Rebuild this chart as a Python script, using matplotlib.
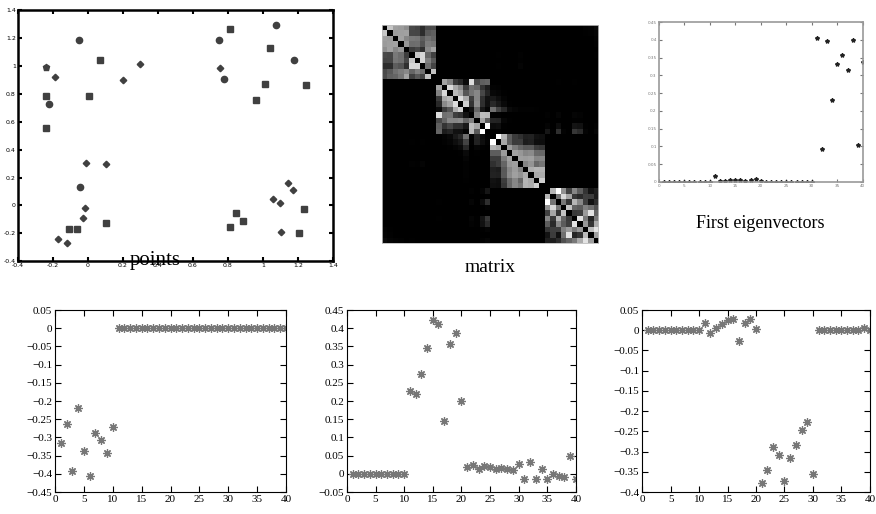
import numpy as np
import matplotlib
matplotlib.use('Agg')
import matplotlib.pyplot as plt

# points (4 clusters of 10), marker per point
pts_x = [-0.05, -0.24, -0.19, -0.24, -0.225, -0.24, 0.07, 0.008, 0.20, 0.30,      # top-left
         -0.013, 0.103, -0.046, -0.019, -0.029, 0.101, -0.107, -0.063, -0.17, -0.12,  # bottom-left
         0.813, 1.072, 0.747, 1.038, 1.175, 0.752, 0.779, 1.013, 1.244, 0.962,     # top-right
         1.141, 1.171, 1.057, 1.095, 1.232, 0.846, 0.886, 0.81, 1.105, 1.206]      # bottom-right
pts_y = [1.189, 0.993, 0.921, 0.787, 0.73, 0.558, 1.046, 0.787, 0.897, 1.012,
         0.304, 0.294, 0.129, -0.017, -0.093, -0.125, -0.173, -0.173, -0.242, -0.273,
         1.268, 1.297, 1.185, 1.131, 1.046, 0.986, 0.907, 0.871, 0.861, 0.759,
         0.158, 0.11, 0.043, 0.017, -0.029, -0.055, -0.115, -0.153, -0.193, -0.201]
pts_m = ['o', 'p', 'D', 's', 'o', 's', 's', 's', 'D', 'D',
         'D', 'D', 'o', 'D', 'D', 's', 's', 's', 'D', 'D',
         's', 'o', 'o', 's', 'o', 'D', 'o', 's', 's', 's',
         'D', 'D', 'D', 'D', 's', 's', 's', 's', 'D', 's']
# block order of the clusters in the matrix
block_order = [3, 0, 1, 2]
sigma = 0.25

idx = np.arange(1, 41)
# first eigenvector (top right)
ev_first = [0]*10 + [0.017, 0.002, 0.003, 0.006, 0.006, 0.006, 0.003, 0.005, 0.009, 0.004] + [0]*10 + \
           [0.406, 0.093, 0.397, 0.232, 0.333, 0.358, 0.314, 0.40, 0.103, 0.337]
ev1 = [-0.315, -0.264, -0.392, -0.219, -0.338, -0.407, -0.289, -0.308, -0.342, -0.272] + [0]*30
ev2 = [0]*10 + [0.228, 0.218, 0.275, 0.346, 0.422, 0.412, 0.145, 0.356, 0.388, 0.2,
                0.02, 0.023, 0.014, 0.022, 0.019, 0.014, 0.017, 0.012, 0.011, 0.026,
                -0.014, 0.033, -0.014, 0.014, -0.014, -0.001, -0.006, -0.009, 0.048, -0.013]
ev3 = [0]*10 + [0.018, -0.007, 0.005, 0.015, 0.025, 0.028, -0.027, 0.018, 0.027, 0.003,
                -0.378, -0.346, -0.289, -0.308, -0.373, -0.315, -0.284, -0.246, -0.226, -0.355] + \
      [0]*8 + [0.005, 0]

fig = plt.figure(figsize=(8.76, 5.14), dpi=100)

# points
ax = fig.add_axes([0.0205, 0.492, 0.3596, 0.488])
for x, y, m in zip(pts_x, pts_y, pts_m):
    ax.plot(x, y, m, color='#404040', ms={'o': 4.5, 's': 4.2, 'D': 3.3, 'p': 4.5}[m], mec='#404040')
ax.set_xlim(-0.4, 1.4)
ax.set_ylim(-0.4, 1.4)
ax.set_xticks(np.arange(-0.4, 1.41, 0.2))
ax.set_yticks(np.arange(-0.4, 1.41, 0.2))
ax.set_xticklabels(['-0.4', '-0.2', '0', '0.2', '0.4', '0.6', '0.8', '1', '1.2', '1.4'])
ax.set_yticklabels(['-0.4', '-0.2', '0', '0.2', '0.4', '0.6', '0.8', '1', '1.2', '1.4'])
ax.tick_params(direction='in', length=3, width=1.5, labelsize=4.5, pad=1.5, top=True, right=True)
for s in ax.spines.values():
    s.set_linewidth(1.8)
fig.text(155/876, 1-261/514, 'points', family='Liberation Serif', fontsize=15, ha='center', va='center')

# matrix, affinity built from the points above
pts = np.array([pts_x, pts_y]).T
order = np.concatenate([np.arange(b*10, b*10+10) for b in block_order])
P = pts[order]
d2 = ((P[:, None, :] - P[None, :, :])**2).sum(-1)
A = np.exp(-d2/(2*sigma**2))
np.fill_diagonal(A, 0)
D = A.sum(1)
L = A/np.sqrt(np.outer(D, D))
ax = fig.add_axes([0.436, 0.527, 0.2466, 0.424])
ax.imshow(L, cmap='gray', interpolation='nearest', aspect='auto')
ax.set_xticks([])
ax.set_yticks([])
for s in ax.spines.values():
    s.set_color('#bbbbbb')
    s.set_linewidth(0.6)
fig.text(490/876, 1-267/514, 'matrix', family='Liberation Serif', fontsize=14, ha='center', va='center')

# first eigenvectors
ax = fig.add_axes([0.752, 0.646, 0.233, 0.311])
ax.plot(idx, ev_first, '*', color='#222222', ms=3)
ax.set_xlim(0, 40)
ax.set_ylim(0, 0.45)
ax.set_xticks(np.arange(0, 41, 5))
ax.set_yticks(np.arange(0, 0.451, 0.05))
ax.set_yticklabels(['0', '0.05', '0.1', '0.15', '0.2', '0.25', '0.3', '0.35', '0.4', '0.45'])
ax.tick_params(direction='in', length=2, width=0.8, labelsize=3, pad=1.5, top=True, right=True, colors='#777777')
for s in ax.spines.values():
    s.set_color('#999999')
    s.set_linewidth(1.2)
fig.text(760/876, 1-224/514, 'First eigenvectors', family='Liberation Serif', fontsize=13, ha='center', va='center')

# bottom row
ast = (8, 2, 0)
bottom = [
    ([0.0628, 0.0428, 0.2637, 0.354], ev1, (-0.45, 0.05)),
    ([0.396, 0.0428, 0.2614, 0.354], ev2, (-0.05, 0.45)),
    ([0.733, 0.0428, 0.260, 0.354], ev3, (-0.4, 0.05)),
]
for pos, vals, lim in bottom:
    ax = fig.add_axes(pos)
    ax.plot(idx, vals, ls='none', marker=ast, color='#777777', ms=6, mew=0.9)
    ax.set_xlim(0, 40)
    ax.set_ylim(*lim)
    ax.set_xticks(np.arange(0, 41, 5))
    yt = np.round(np.arange(lim[0], lim[1] + 0.001, 0.05), 2)
    ax.set_yticks(yt)
    ax.set_yticklabels([('%g' % v).replace('-', '\u2212') if abs(v) > 1e-9 else '0' for v in yt])
    ax.tick_params(direction='in', length=4, width=0.8, labelsize=8, pad=2, top=True, right=True)
    for lab in ax.get_xticklabels() + ax.get_yticklabels():
        lab.set_family('Liberation Serif')
    for s in ax.spines.values():
        s.set_linewidth(0.8)

fig.savefig('out.png', dpi=100)
